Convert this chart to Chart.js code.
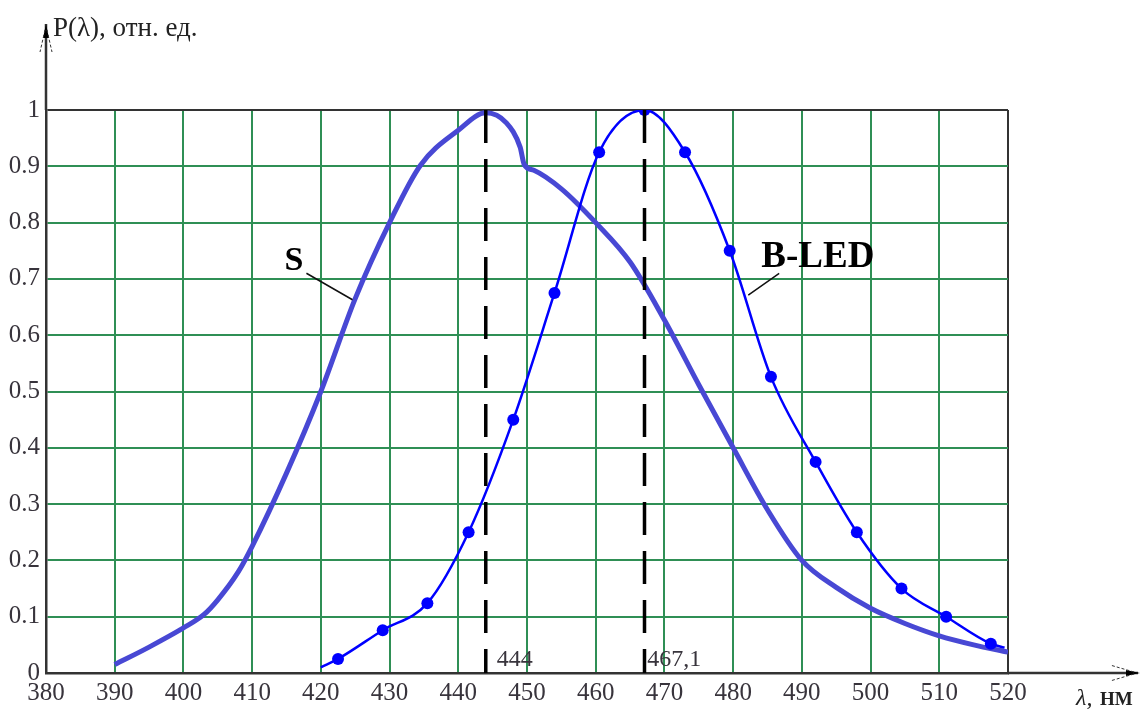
<!DOCTYPE html>
<html lang="ru">
<head>
    <meta charset="UTF-8">
    <title>P(λ)</title>
    <script src="https://cdn.jsdelivr.net/npm/chart.js"></script>
    <style>
        body { margin: 0; background: #fff; }
    </style>
</head>
<body>
    <canvas id="myChart" width="1144" height="709"></canvas>

    <script>
        // Спектр S (толстая линия)
        const sX = [390, 395, 400, 403, 405, 408, 410, 415, 420, 425, 430, 434.5, 440, 444, 447, 449, 449.6, 451, 455, 460, 465, 470, 475, 480, 485, 490, 495, 500, 505, 510, 515, 520];
        const sY = [0.015, 0.046, 0.08, 0.104, 0.13, 0.18, 0.225, 0.355, 0.5, 0.665, 0.8, 0.902, 0.964, 0.995, 0.977, 0.934, 0.903, 0.893, 0.86, 0.8, 0.73, 0.627, 0.512, 0.4, 0.29, 0.2, 0.152, 0.115, 0.088, 0.066, 0.05, 0.037];

        // Спектр синего светодиода, точки с маркерами (1) и без (0)
        const ledX = [420, 422.5, 429, 435.5, 441.5, 448, 454, 460.5, 467.1, 473, 479.5, 485.5, 492, 498, 504.5, 511, 517.5, 519.5];
        const ledY = [0.01, 0.025, 0.076, 0.124, 0.25, 0.45, 0.675, 0.925, 1.0, 0.925, 0.75, 0.526, 0.375, 0.25, 0.15, 0.1, 0.052, 0.045];
        const ledMark = [0, 1, 1, 1, 1, 1, 1, 1, 1, 1, 1, 1, 1, 1, 1, 1, 1, 0];

        // Пики
        const peaks = [444, 467.1];
        const peakLabels = ['444', '467,1'];

        const xMin = 380, xMax = 520, xStep = 10;
        const yMin = 0, yMax = 1, yStep = 0.1;

        const green = '#2f8f55';
        const frame = '#333';
        const tickColor = '#38343c';

        const toPts = (xs, ys) => xs.map((x, i) => ({ x: x, y: ys[i] }));

        const datasets = [
            {
                label: 'S',
                data: toPts(sX, sY),
                borderColor: '#4848d4',
                borderWidth: 5,
                pointRadius: 0,
                cubicInterpolationMode: 'monotone',
                showLine: true,
                order: 2
            },
            {
                label: 'B-LED',
                data: toPts(ledX, ledY),
                borderColor: '#0000ff',
                backgroundColor: '#0000ff',
                borderWidth: 2.5,
                pointRadius: ledMark.map(m => m ? 6 : 0),
                pointBorderWidth: 0,
                pointBackgroundColor: '#0000ff',
                cubicInterpolationMode: 'monotone',
                showLine: true,
                order: 1
            }
        ];
        peaks.forEach((p) => {
            datasets.push({
                label: 'peak ' + p,
                data: [{ x: p, y: yMax }, { x: p, y: yMin }],
                borderColor: '#000',
                borderWidth: 3.5,
                borderDash: [33, 16],
                pointRadius: 0,
                showLine: true,
                order: 0
            });
        });

        // подписи, стрелки осей
        const decor = {
            id: 'decor',
            afterDatasetsDraw(chart) {
                const ctx = chart.ctx;
                const xs = chart.scales.x, ys = chart.scales.y;
                const a = chart.chartArea;
                const px = v => xs.getPixelForValue(v);
                const py = v => ys.getPixelForValue(v);

                ctx.save();
                // оси со стрелками
                ctx.strokeStyle = frame;
                ctx.fillStyle = '#000';
                ctx.lineWidth = 2.5;
                ctx.beginPath();
                ctx.moveTo(a.left, a.top);
                ctx.lineTo(a.left, 24);
                ctx.moveTo(a.right, a.bottom);
                ctx.lineTo(1138, a.bottom);
                ctx.stroke();

                ctx.beginPath();
                ctx.moveTo(a.left, 24);
                ctx.lineTo(a.left - 3, 38);
                ctx.lineTo(a.left + 3, 38);
                ctx.closePath();
                ctx.fill();
                ctx.beginPath();
                ctx.moveTo(1140, a.bottom);
                ctx.lineTo(1126, a.bottom - 3);
                ctx.lineTo(1126, a.bottom + 3);
                ctx.closePath();
                ctx.fill();

                ctx.lineWidth = 1;
                ctx.setLineDash([3, 2]);
                ctx.beginPath();
                ctx.moveTo(a.left - 1, 30); ctx.lineTo(a.left - 6, 52);
                ctx.moveTo(a.left + 1, 30); ctx.lineTo(a.left + 6, 52);
                ctx.moveTo(1134, a.bottom - 1); ctx.lineTo(1110, a.bottom - 8);
                ctx.moveTo(1134, a.bottom + 1); ctx.lineTo(1110, a.bottom + 8);
                ctx.stroke();
                ctx.setLineDash([]);

                // подписи осей
                ctx.fillStyle = '#222';
                ctx.textBaseline = 'alphabetic';
                ctx.textAlign = 'left';
                ctx.font = '27px "Liberation Serif"';
                ctx.fillText('P(λ), отн. ед.', a.left + 7, 36);
                ctx.font = 'italic 24px "Liberation Serif"';
                ctx.fillText('λ,', 1076, 705);
                ctx.font = 'bold 19px "Liberation Serif"';
                ctx.fillText('НМ', 1100, 705);

                // подписи пиков
                ctx.fillStyle = tickColor;
                ctx.font = '24px "Liberation Serif"';
                ctx.fillText(peakLabels[0], px(445.6), py(0.012));
                ctx.fillText(peakLabels[1], px(467.5), py(0.012));

                // названия кривых и выноски
                ctx.fillStyle = '#000';
                ctx.font = 'bold 34px "Liberation Serif"';
                ctx.fillText('S', px(414.7), py(0.716));
                ctx.font = 'bold 37px "Liberation Serif"';
                ctx.fillText('B-LED', px(484.1), py(0.721));

                ctx.strokeStyle = '#111';
                ctx.lineWidth = 1.5;
                ctx.beginPath();
                ctx.moveTo(px(417.9), py(0.710));
                ctx.lineTo(px(424.6), py(0.663));
                ctx.moveTo(px(486.7), py(0.710));
                ctx.lineTo(px(482.2), py(0.671));
                ctx.stroke();
                ctx.restore();
            }
        };

        const ctx = document.getElementById('myChart').getContext('2d');
        const chart = new Chart(ctx, {
            type: 'scatter',
            data: { datasets: datasets },
            plugins: [decor],
            options: {
                responsive: false,
                animation: false,
                layout: { padding: { left: 0, top: 110, right: 136, bottom: 0 } },
                plugins: {
                    legend: { display: false },
                    tooltip: { enabled: false }
                },
                scales: {
                    x: {
                        type: 'linear',
                        min: xMin,
                        max: xMax,
                        afterFit: (s) => { s.height = 36; },
                        border: { color: frame, width: 2.5 },
                        grid: {
                            drawTicks: false,
                            lineWidth: 2,
                            color: (c) => (c.tick && c.tick.value === xMax) ? frame : green
                        },
                        ticks: {
                            stepSize: xStep,
                            padding: 5,
                            color: tickColor,
                            maxRotation: 0,
                            autoSkip: false,
                            font: { family: 'Liberation Serif', size: 25 }
                        }
                    },
                    y: {
                        min: yMin,
                        max: yMax,
                        afterFit: (s) => { s.width = 46; },
                        border: { color: frame, width: 2.5 },
                        grid: {
                            drawTicks: false,
                            lineWidth: 2,
                            color: (c) => (c.tick && Math.abs(c.tick.value - yMax) < 1e-9) ? frame : green
                        },
                        ticks: {
                            stepSize: yStep,
                            padding: 6,
                            color: tickColor,
                            autoSkip: false,
                            font: { family: 'Liberation Serif', size: 25 },
                            callback: (v) => {
                                const r = Math.round(v * 10) / 10;
                                return (r === 0 || r === 1) ? String(r) : r.toFixed(1);
                            }
                        }
                    }
                }
            }
        });
    </script>
</body>
</html>
